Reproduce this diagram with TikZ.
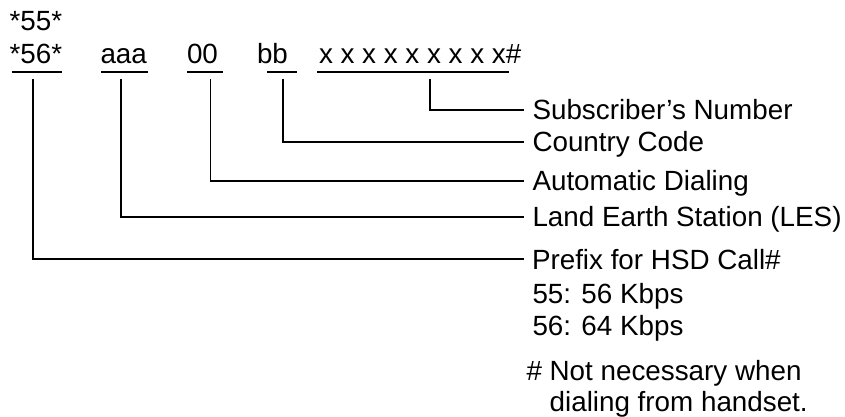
\documentclass[tikz,border=0pt]{standalone}
\usepackage{fontspec}
\setmainfont{Liberation Sans}
\begin{document}
\begin{tikzpicture}[x=1pt,y=-1pt,
  conn/.style={line width=1.9pt},
  ul/.style={line width=1.5pt},
  lbl/.style={anchor=base west, inner sep=0pt, outer sep=0pt, font=\fontsize{27.8}{32}\selectfont}]
\useasboundingbox (0,0) rectangle (845,417);
% top row
\node[lbl] (p55) at (9.6,31) {*55*};
\node[lbl] (p56) at (9.6,64) {*56*};
\node[lbl] (aaa) at (100.5,64) {aaa};
\node[lbl] (zz) at (187,64) {00};
\node[lbl] (bb) at (257,64) {bb};
\node[lbl] (xs) at (319,64) {x x x x x x x x x\#};
% underlines
\draw[ul] (11.5,72) -- (62,72);
\draw[ul] (101,72) -- (148,72);
\draw[ul] (187,72) -- (223,72);
\draw[ul] (267,72) -- (297,72);
\draw[ul] (317,72) -- (509,72);
% labels
\node[lbl] (lsub) at (532.5,119.7) {Subscriber’s Number};
\node[lbl] (lcc) at (532.5,151.4) {Country Code};
\node[lbl] (lad) at (532.5,190.4) {Automatic Dialing};
\node[lbl] (lles) at (532.5,226.7) {Land Earth Station (LES)};
\node[lbl] (lpre) at (532,269) {Prefix for HSD Call\#};
\node[lbl] (l55) at (532.5,303) {55: 56 Kbps};
\node[lbl] (l56) at (532.5,335) {56: 64 Kbps};
\node[lbl] (lnot) at (526.5,380) {\# Not necessary when};
\node[lbl] (ldial) at (526.5,411) {\phantom{\# }dialing from handset.};
% connector start and end points
\coordinate (sx) at (430,79);
\coordinate (sb) at (283,79);
\coordinate (sz) at (210.5,79);
\coordinate (sa) at (121,79);
\coordinate (sp) at (33,79);
\coordinate (ex) at (524,110);
\coordinate (eb) at (524,141.7);
\coordinate (ez) at (524,180.7);
\coordinate (ea) at (524,217);
\coordinate (ep) at (524,259.3);
\draw[conn] (sx) |- (ex);
\draw[conn] (sb) |- (eb);
\draw[conn] (sz) |- (ez);
\draw[conn] (sa) |- (ea);
\draw[conn] (sp) |- (ep);
\end{tikzpicture}
\end{document}
